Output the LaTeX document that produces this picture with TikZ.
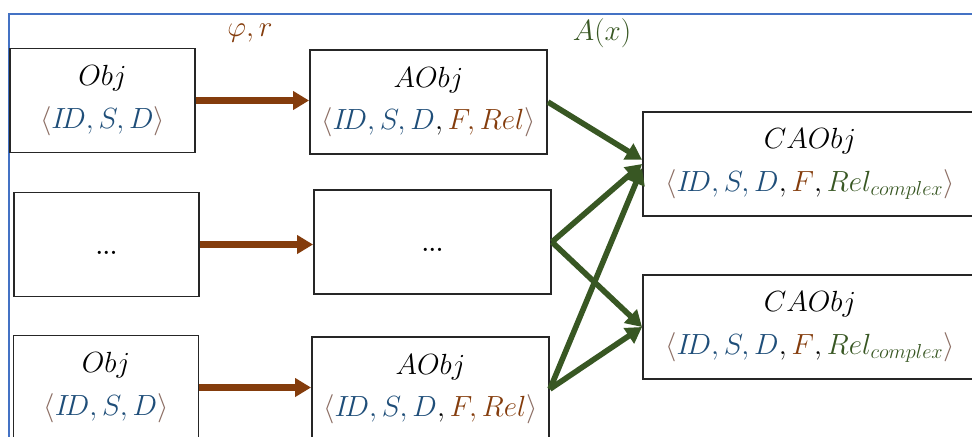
\documentclass[tikz,border=0pt]{standalone}
\usepackage{amsmath}
\usetikzlibrary{arrows.meta}
\definecolor{idblue}{RGB}{31,78,121}
\definecolor{relbrown}{RGB}{132,60,12}
\definecolor{cxgreen}{RGB}{56,87,35}
\definecolor{brkgrey}{RGB}{140,110,100}
\definecolor{framblue}{RGB}{68,114,196}
\newcommand{\objtuple}[1]{\textcolor{brkgrey}{\langle}#1\textcolor{brkgrey}{\rangle}}
\newcommand{\isd}{\textcolor{idblue}{I\!D,S,D}}
\newcommand{\gapdots}{\raisebox{-7pt}[0pt][0pt]{\fontsize{16}{16}\selectfont\textbf{...}}}
\begin{document}
\begin{tikzpicture}[x=0.025cm,y=-0.025cm,
	box/.style={draw=black!85,line width=1.3pt,align=center,inner sep=0pt,minimum height=2.6cm,font=\fontsize{22}{30}\selectfont},
	objbox/.style={box,minimum width=4.625cm},
	aobjbox/.style={box,minimum width=5.925cm},
	caobjbox/.style={box,minimum width=8.35cm},
	maparrow/.style={draw=relbrown,line width=4.5pt,-{Triangle[length=0.4cm,width=0.45cm]}},
	absarrow/.style={draw=cxgreen,line width=4pt,-{Triangle[length=0.4cm,width=0.45cm]}}]
	\useasboundingbox (0,0) rectangle (972,436);
	\clip (0,0) rectangle (972,436);
	%Frame
	\draw [framblue,line width=1.5pt] (9,480) -- (9,14) -- (1000,14);

	%Objects
	\node [objbox] (objA) at (102.5,100.5) {$Obj$\\$\objtuple{\isd}$};
	\node [objbox] (objB) at (106.5,244.5) {\gapdots};
	\node [objbox] (objC) at (106,387.5) {$Obj$\\$\objtuple{\isd}$};
	%Attributed objects
	\node [aobjbox] (aobjA) at (428.5,102) {$AObj$\\$\objtuple{\isd,\textcolor{relbrown}{F,Rel}}$};
	\node [aobjbox] (aobjB) at (432.5,242) {\gapdots};
	\node [aobjbox] (aobjC) at (430.5,389) {$AObj$\\$\objtuple{\isd,\textcolor{relbrown}{F,Rel}}$};
	%Complex objects
	\node [caobjbox] (caobjA) at (810,164) {$CAObj$\\$\objtuple{\isd,\textcolor{relbrown}{F},\textcolor{cxgreen}{Rel_{complex}}}$};
	\node [caobjbox] (caobjB) at (810,327) {$CAObj$\\$\objtuple{\isd,\textcolor{relbrown}{F},\textcolor{cxgreen}{Rel_{complex}}}$};

	%Labels
	\node [font=\fontsize{22}{22}\selectfont] (lblmap) at (250,33) {$\textcolor{relbrown}{\varphi,r}$};
	\node [font=\fontsize{22}{22}\selectfont] (lblabs) at (602,33) {$\textcolor{cxgreen}{A(x)}$};

	%Mapping arrows
	\draw [maparrow] (objA) -- (aobjA.west |- objA);
	\draw [maparrow] (objB) -- (aobjB.west |- objB);
	\draw [maparrow] (objC) -- (aobjC.west |- objC);
	%Abstraction arrows
	\draw [absarrow] (aobjA.east) -- ([yshift=3pt]caobjA.west);
	\draw [absarrow] (aobjB.east) -- (caobjA.west);
	\draw [absarrow] (aobjB.east) -- (caobjB.west);
	\draw [absarrow] (aobjC.east) -- ([yshift=-3pt]caobjA.west);
	\draw [absarrow] (aobjC.east) -- (caobjB.west);
\end{tikzpicture}
\end{document}
